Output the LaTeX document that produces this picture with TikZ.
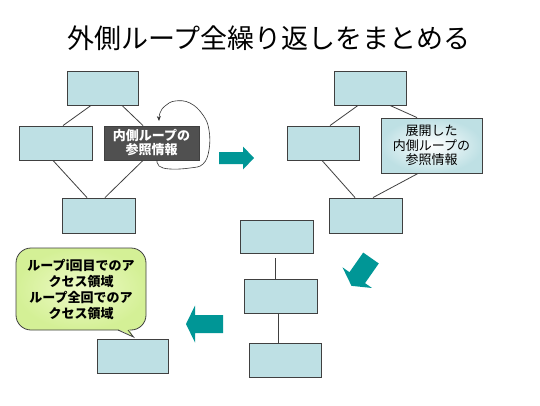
\documentclass[tikz,border=0pt]{standalone}
\usepackage{fontspec}
\setmainfont{Noto Sans CJK JP}
\usetikzlibrary{calc,arrows.meta}
\definecolor{boxblue}{RGB}{190,224,228}
\definecolor{boxline}{RGB}{64,64,64}
\definecolor{darkbox}{RGB}{80,80,80}
\definecolor{tealA}{RGB}{0,150,150}
\definecolor{calloutin}{RGB}{238,250,200}
\definecolor{calloutout}{RGB}{212,240,150}
\tikzset{
  box/.style={draw=boxline, line width=0.9pt, fill=boxblue, inner sep=0pt},
  darkref/.style={draw=boxline, line width=0.9pt, fill=darkbox, inner sep=0pt, text=white, font=\fontsize{13}{14}\selectfont\bfseries, align=center},
  expbox/.style={draw=boxline, line width=0.9pt, inner color=white, outer color=boxblue, inner sep=0pt, font=\fontsize{13}{14.5}\selectfont, align=center},
  link/.style={draw=boxline, line width=0.8pt},
  tealarrow/.style={fill=tealA},
  calloutshape/.style={draw=boxline, line width=0.8pt, inner color=calloutin, outer color=calloutout},
  callouttext/.style={font=\fontsize{13}{16}\selectfont\bfseries, align=center, inner sep=0pt},
  loopline/.style={draw=black!80, line width=0.6pt, -{Stealth[length=5pt,width=4pt]}}
}
\begin{document}
\begin{tikzpicture}[x=1pt,y=-1pt]
\useasboundingbox[fill=white] (0,0) rectangle (540,405);

% title
\node[font=\fontsize{27}{30}\selectfont] (title) at (269,38) {外側ループ全繰り返しをまとめる};

% ---- left group
\node[box, minimum width=71pt, minimum height=34pt] (ltop) at (102.5,88) {};
\node[box, minimum width=73pt, minimum height=34pt] (lleft) at (55.5,143) {};
\node[darkref, minimum width=95pt, minimum height=34pt] (ldark) at (151.5,143) {内側ループの\\参照情報};
\node[box, minimum width=73pt, minimum height=35pt] (lbot) at (98.5,215.5) {};
\draw[link] ([xshift=-11.5pt]ltop.south) -- ([xshift=7.5pt]lleft.north);
\draw[link] ([xshift=19.5pt]ltop.south) -- ([xshift=-8.5pt]ldark.north);
\draw[link] ([xshift=-2.5pt]lleft.south) -- ([xshift=-11.5pt]lbot.north);
\draw[link] ([xshift=-8.5pt]ldark.south) -- ([xshift=6.5pt]lbot.north);

% loop curve
\draw[loopline] plot[smooth, tension=0.7] coordinates {(157,160) (159,166) (170,169) (190,168) (203,164) (209,150) (209,130) (203,115) (190,103) (175,101) (165,106) (160,113) (159,121)};

% ---- right group
\node[box, minimum width=72pt, minimum height=34pt] (rtop) at (370,88) {};
\node[box, minimum width=72pt, minimum height=34pt] (rleft) at (323,143) {};
\node[expbox, minimum width=101pt, minimum height=55pt] (rexp) at (431.5,145.5) {展開した\\内側ループの\\参照情報};
\node[box, minimum width=73pt, minimum height=35pt] (rbot) at (365.5,215.5) {};
\draw[link] ([xshift=-12pt]rtop.south) -- ([xshift=7pt]rleft.north);
\draw[link] ([xshift=20pt]rtop.south) -- ([xshift=-14.5pt]rexp.north);
\draw[link] ([xshift=-1pt]rleft.south) -- ([xshift=-10.5pt]rbot.north);
\draw[link] ([xshift=-13.5pt]rexp.south) -- ([xshift=7.5pt]rbot.north);

% ---- middle chain
\node[box, minimum width=73pt, minimum height=33pt] (ma) at (276.5,236.5) {};
\node[box, minimum width=73pt, minimum height=34pt] (mb) at (280.5,296) {};
\node[box, minimum width=72pt, minimum height=34pt] (mc) at (285,360) {};
\draw[link, shorten <=5pt] ([xshift=-1.5pt]ma.south) -- ([xshift=-5.5pt]mb.north);
\draw[link] ([xshift=-2.5pt]mb.south) -- ([xshift=-7pt]mc.north);

% ---- bottom left
\node[box, minimum width=71pt, minimum height=34pt] (blbox) at (132.5,356) {};
\draw[calloutshape, rounded corners=15pt] (16,248) rectangle (146,330);
\fill[calloutout] (117,328.6) -- (133,336.5) -- (129,328.6) -- cycle;
\draw[boxline, line width=0.8pt, line join=miter] (118,330) -- (133.5,337) -- (128,330);
\node[callouttext] (callout) at (81,289) {ループi回目でのア\\クセス領域\\ループ全回でのア\\クセス領域};

% ---- teal arrows
\fill[tealarrow, shift={(219,158)}] (0,-6) -- (24,-6) -- (24,-11.5) -- (35,0) -- (24,11.5) -- (24,6) -- (0,6) -- cycle;
\fill[tealarrow, shift={(371,258)}, rotate=235] (0,-9.5) -- (24,-9.5) -- (24,-18) -- (34,0) -- (24,18) -- (24,9.5) -- (0,9.5) -- cycle;
\fill[tealarrow, shift={(223,324)}, rotate=180] (0,-9) -- (28,-9) -- (28,-18.5) -- (37,0) -- (28,18.5) -- (28,9) -- (0,9) -- cycle;
\end{tikzpicture}
\end{document}
